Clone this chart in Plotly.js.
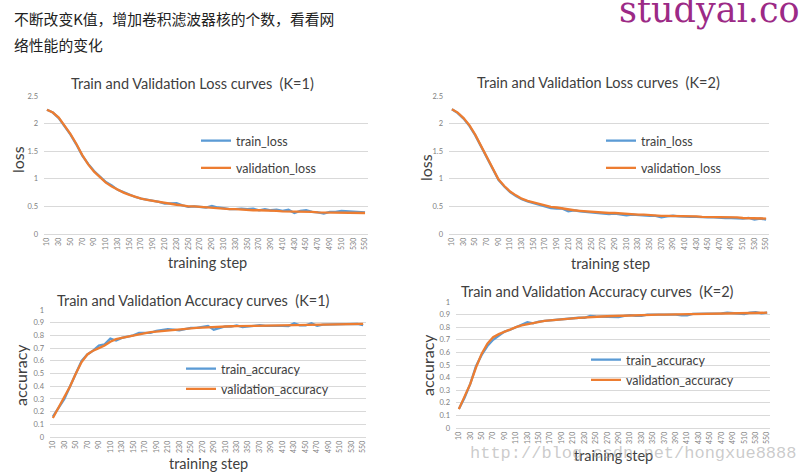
<!DOCTYPE html>
<html>
<head>
<meta charset="utf-8">
<script src="https://cdn.plot.ly/plotly-3.0.1.min.js"></script>
<style>
html,body{margin:0;padding:0;background:#fff;}
#chart{width:804px;height:472px;}
</style>
</head>
<body>
<div id="chart"></div>
<script>
// categories (training step)
const steps = [10,20,30,40,50,60,70,80,90,100,110,120,130,140,150,160,170,180,190,200,
  210,220,230,240,250,260,270,280,290,300,310,320,330,340,350,360,370,380,390,400,
  410,420,430,440,450,460,470,480,490,500,510,520,530,540,550];
const tickSteps = [10,30,50,70,90,110,130,150,170,190,210,230,250,270,290,310,330,350,370,390,410,430,450,470,490,510,530,550];

const lossK1Train = [2.25,2.20,2.10,1.96,1.80,1.62,1.42,1.27,1.14,1.04,0.94,0.88,0.80,0.76,0.71,0.67,0.64,0.62,0.61,0.58,
  0.55,0.55,0.56,0.52,0.49,0.50,0.49,0.48,0.51,0.48,0.47,0.45,0.45,0.46,0.45,0.46,0.43,0.45,0.43,0.44,
  0.42,0.44,0.38,0.42,0.43,0.40,0.39,0.37,0.40,0.40,0.42,0.41,0.40,0.39,0.39];
const lossK1Val = [2.25,2.20,2.11,1.97,1.81,1.63,1.43,1.26,1.13,1.03,0.93,0.86,0.80,0.75,0.71,0.67,0.64,0.62,0.60,0.58,
  0.56,0.55,0.53,0.52,0.50,0.50,0.49,0.48,0.47,0.47,0.46,0.45,0.45,0.44,0.44,0.43,0.43,0.43,0.42,0.42,
  0.41,0.41,0.41,0.40,0.40,0.40,0.39,0.39,0.39,0.39,0.39,0.39,0.38,0.38,0.38];

const lossK2Train = [2.26,2.19,2.09,1.96,1.79,1.59,1.37,1.17,0.98,0.86,0.76,0.69,0.63,0.59,0.56,0.53,0.50,0.47,0.46,0.46,
  0.41,0.43,0.41,0.40,0.39,0.38,0.37,0.36,0.37,0.36,0.34,0.35,0.34,0.34,0.33,0.33,0.30,0.32,0.33,0.32,
  0.31,0.31,0.31,0.30,0.30,0.30,0.29,0.29,0.29,0.28,0.28,0.29,0.26,0.28,0.26];
const lossK2Val = [2.26,2.20,2.10,1.97,1.80,1.60,1.38,1.18,0.99,0.87,0.77,0.70,0.64,0.60,0.57,0.54,0.52,0.49,0.48,0.46,
  0.45,0.43,0.42,0.41,0.41,0.40,0.39,0.38,0.38,0.37,0.36,0.36,0.35,0.35,0.34,0.34,0.33,0.33,0.33,0.33,
  0.32,0.32,0.32,0.31,0.31,0.31,0.30,0.30,0.30,0.30,0.29,0.29,0.29,0.29,0.28];

const accK1Train = [0.16,0.23,0.30,0.40,0.50,0.60,0.65,0.68,0.72,0.73,0.775,0.76,0.78,0.79,0.80,0.82,0.82,0.82,0.835,0.84,
  0.85,0.845,0.84,0.85,0.86,0.86,0.865,0.875,0.845,0.855,0.87,0.87,0.878,0.865,0.87,0.875,0.88,0.875,0.875,0.88,
  0.875,0.873,0.895,0.88,0.88,0.895,0.875,0.885,0.885,0.89,0.885,0.888,0.89,0.89,0.88];
const accK1Val = [0.15,0.23,0.31,0.40,0.50,0.59,0.65,0.68,0.70,0.72,0.75,0.77,0.78,0.79,0.80,0.81,0.82,0.825,0.83,0.835,
  0.84,0.845,0.85,0.853,0.856,0.86,0.862,0.865,0.866,0.868,0.87,0.872,0.873,0.874,0.875,0.876,0.877,0.878,0.879,0.88,
  0.88,0.881,0.882,0.883,0.884,0.885,0.885,0.886,0.887,0.887,0.888,0.888,0.889,0.889,0.89];

const accK2Train = [0.15,0.24,0.35,0.49,0.58,0.65,0.70,0.73,0.765,0.78,0.80,0.82,0.84,0.83,0.845,0.85,0.855,0.86,0.865,0.865,
  0.87,0.875,0.875,0.89,0.885,0.885,0.885,0.885,0.88,0.89,0.895,0.89,0.89,0.90,0.90,0.90,0.905,0.90,0.90,0.895,
  0.895,0.905,0.905,0.91,0.905,0.91,0.91,0.915,0.91,0.91,0.905,0.915,0.92,0.91,0.915];
const accK2Val = [0.15,0.25,0.35,0.48,0.59,0.67,0.72,0.745,0.765,0.785,0.80,0.815,0.825,0.835,0.845,0.85,0.855,0.86,0.865,0.868,
  0.87,0.874,0.878,0.88,0.883,0.885,0.887,0.889,0.89,0.892,0.894,0.895,0.896,0.897,0.898,0.90,0.90,0.901,0.902,0.903,
  0.904,0.905,0.906,0.907,0.908,0.909,0.91,0.91,0.911,0.912,0.912,0.913,0.914,0.914,0.915];

const BLUE = '#5b9bd5', ORANGE = '#ed7d31';
const W = 804, H = 472;
const px = v => v / W;
const py = v => 1 - v / H;

function tr(y, name, color, xa, ya, leg) {
  return {x: steps, y: y, name: name, type: 'scatter', mode: 'lines',
    line: {color: color, width: 2.3}, xaxis: xa, yaxis: ya, legend: leg,
    legendgroup: name, hoverinfo: 'skip'};
}

const data = [
  tr(lossK1Train, 'train_loss', BLUE, 'x', 'y', 'legend'),
  tr(lossK1Val, 'validation_loss', ORANGE, 'x', 'y', 'legend'),
  tr(lossK2Train, 'train_loss', BLUE, 'x2', 'y2', 'legend2'),
  tr(lossK2Val, 'validation_loss', ORANGE, 'x2', 'y2', 'legend2'),
  tr(accK1Train, 'train_accuracy', BLUE, 'x3', 'y3', 'legend3'),
  tr(accK1Val, 'validation_accuracy', ORANGE, 'x3', 'y3', 'legend3'),
  tr(accK2Train, 'train_accuracy', BLUE, 'x4', 'y4', 'legend4'),
  tr(accK2Val, 'validation_accuracy', ORANGE, 'x4', 'y4', 'legend4')
];

const FONT = 'Lato, "Open Sans", sans-serif';
function xax(l, r, anchor) {
  return {domain: [px(l), px(r)], range: [5, 555], anchor: anchor,
    tickmode: 'array', tickvals: tickSteps, ticktext: tickSteps.map(String),
    tickangle: -90, tickfont: {size: 7, color: '#808080', family: FONT},
    showgrid: false, zeroline: false, showline: true, linecolor: '#d9d9d9', linewidth: 1,
    ticks: '', fixedrange: true};
}
function yax(b, t, anchor, max, dtick) {
  return {domain: [py(b), py(t)], range: [0, max], dtick: dtick, anchor: anchor,
    showgrid: true, gridcolor: '#d9d9d9', gridwidth: 1, zeroline: false, showline: false,
    tickfont: {size: 7.5, color: '#808080', family: FONT}, ticks: '', ticklabelstandoff: 5,
    fixedrange: true};
}
function leg(xl, ytop, gap) {
  return {x: px(xl), y: py(ytop), xanchor: 'left', yanchor: 'top', bgcolor: 'rgba(0,0,0,0)',
    font: {size: 12.5, color: '#404040', family: FONT}, traceorder: 'grouped', tracegroupgap: gap,
    itemwidth: 30};
}
function ann(text, x, y, size, opts) {
  return Object.assign({text: text, x: px(x), y: py(y), xref: 'paper', yref: 'paper',
    xanchor: 'center', yanchor: 'middle', showarrow: false,
    font: {size: size, color: '#404040', family: FONT}}, opts || {});
}

const layout = {
  width: W, height: H, margin: {l: 0, r: 0, t: 0, b: 0},
  paper_bgcolor: '#ffffff', plot_bgcolor: 'rgba(0,0,0,0)', showlegend: true,
  xaxis: xax(44, 368, 'y'), yaxis: yax(234, 96, 'x', 2.5, 0.5),
  xaxis2: xax(449, 769, 'y2'), yaxis2: yax(234, 96, 'x2', 2.5, 0.5),
  xaxis3: xax(50, 366, 'y3'), yaxis3: yax(437, 310, 'x3', 1, 0.1),
  xaxis4: xax(456, 770, 'y4'), yaxis4: yax(428, 302, 'x4', 1, 0.1),
  legend: leg(196, 126, 8), legend2: leg(601, 126, 8), legend3: leg(181, 354, 1), legend4: leg(586, 345, 1),
  annotations: [
    ann('不断改变K值，增加卷积滤波器核的个数，看看网', 12, 18, 14.8,
      {xanchor: 'left', font: {size: 14.8, color: '#222', family: '"Noto Sans CJK SC", sans-serif'}}),
    ann('络性能的变化', 12, 45, 14.8,
      {xanchor: 'left', font: {size: 14.8, color: '#222', family: '"Noto Sans CJK SC", sans-serif'}}),
    ann('studyai.co', 617, 10, 35,
      {xanchor: 'left', font: {size: 35, color: '#9c2a86', family: '"DejaVu Serif", serif'}}),
    ann('Train and Validation Loss curves&nbsp;&nbsp;(K=1)', 192, 84, 14.5),
    ann('Train and Validation Loss curves&nbsp;&nbsp;(K=2)', 598, 83, 14.5),
    ann('Train and Validation Accuracy curves&nbsp;&nbsp;(K=1)', 193, 300, 14.5),
    ann('Train and Validation Accuracy curves&nbsp;&nbsp;(K=2)', 597, 291, 14.5),
    ann('loss', 17, 160, 16, {textangle: -90}),
    ann('loss', 425, 167, 16, {textangle: -90}),
    ann('accuracy', 20, 375, 16, {textangle: -90}),
    ann('accuracy', 427, 365, 16, {textangle: -90}),
    ann('training step', 207, 262, 14.5),
    ann('training step', 610, 263, 14.5),
    ann('training step', 208, 463, 14.5),
    ann('training step', 613, 455, 14.5),
    ann('http://blog.csdn.net/hongxue8888', 633, 453, 17,
      {font: {size: 17, color: 'rgba(160,160,160,0.55)', family: '"Liberation Mono", monospace'}})
  ]
};

Plotly.newPlot('chart', data, layout, {staticPlot: true, displayModeBar: false});
</script>
</body>
</html>
